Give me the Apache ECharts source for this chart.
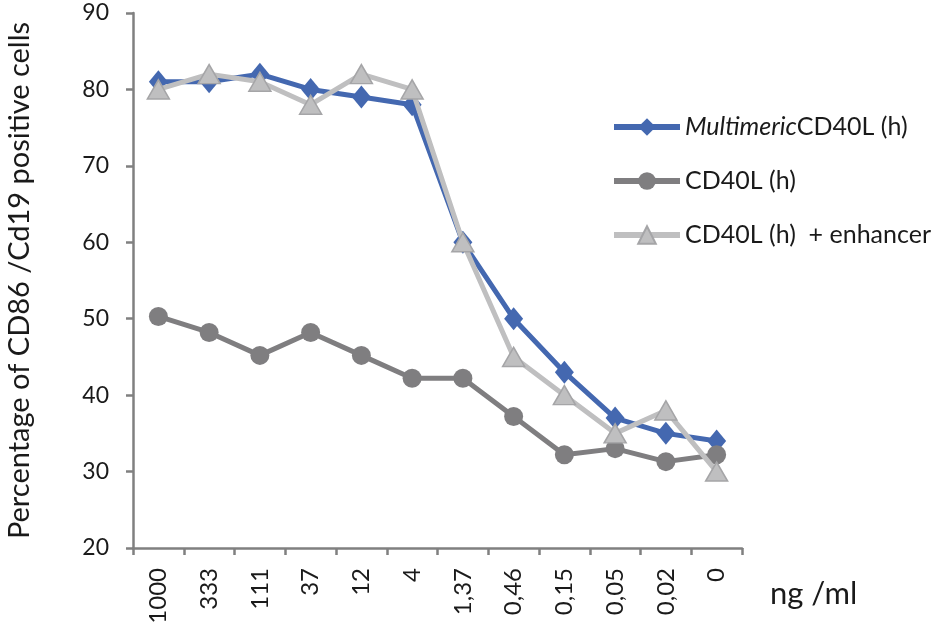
<!DOCTYPE html>
<html><head><meta charset="utf-8">
<script src="https://cdn.jsdelivr.net/npm/echarts@6/dist/echarts.min.js"></script>
<style>html,body{margin:0;padding:0;background:#fff}#c{width:951px;height:623px}</style>
</head><body><div id="c"></div>
<script>
const categories = ['1000','333','111','37','12','4','1,37','0,46','0,15','0,05','0,02','0'];
const multimeric = [81, 81, 82, 80, 79, 78, 60, 50, 43, 37, 35, 34];
const cd40l = [50.3, 48.2, 45.2, 48.2, 45.2, 42.2, 42.2, 37.2, 32.2, 33, 31.3, 32.2];
const enhancer = [80, 82, 81, 78, 82, 80, 60, 45, 40, 35, 38, 30];
const yTicks = {min: 20, max: 90, interval: 10};

const font = 'Lato, "Open Sans", sans-serif';
const txt = '#1a1a1a';
const chart = echarts.init(document.getElementById('c'), null, {renderer: 'canvas'});
chart.setOption({
  backgroundColor: '#fff',
  animation: false,
  grid: {left: 133, right: 209, top: 13, bottom: 75, containLabel: false, outerBoundsMode: 'none'},
  legend: {
    orient: 'vertical', left: 606, top: 109, itemWidth: 66, itemHeight: 22, itemGap: 28,
    lineStyle: {width: 6},
    textStyle: {fontFamily: font, fontSize: 25, color: txt, lineHeight: 26,
      rich: {it: {fontStyle: 'italic', fontFamily: font, fontSize: 25, color: txt},
             n: {fontFamily: font, fontSize: 25, color: txt}}},
    formatter: function(name){
      if (name.indexOf('Multimeric') === 0) return '{it|Multimeric}{n|CD40L (h)}';
      return '{n|' + name + '}';
    },
    data: ['Multimeric CD40L (h)', 'CD40L (h)', 'CD40L (h)  + enhancer']
  },
  xAxis: {
    type: 'category', data: categories, boundaryGap: true,
    name: 'ng /ml', nameLocation: 'end', nameGap: 28,
    nameTextStyle: {fontFamily: font, fontSize: 31, color: txt, verticalAlign: 'top', padding: [30, 0, 0, 0]},
    axisLine: {lineStyle: {color: '#808080', width: 2.5}},
    axisTick: {show: true, alignWithLabel: false, length: 7, lineStyle: {color: '#808080', width: 2.5}},
    axisLabel: {rotate: 90, fontFamily: font, fontSize: 24, color: txt, margin: 20, interval: 0}
  },
  yAxis: {
    type: 'value', min: yTicks.min, max: yTicks.max, interval: yTicks.interval,
    name: 'Percentage of CD86 /Cd19 positive cells', nameLocation: 'middle', nameGap: 99,
    nameTextStyle: {fontFamily: font, fontSize: 29, color: txt},
    axisLine: {show: true, lineStyle: {color: '#808080', width: 2.5}},
    axisTick: {show: true, length: 7, lineStyle: {color: '#808080', width: 2.5}},
    splitLine: {show: false},
    axisLabel: {fontFamily: font, fontSize: 23, color: txt, margin: 24}
  },
  series: [
    {name: 'Multimeric CD40L (h)', type: 'line', data: multimeric, symbol: 'diamond', symbolSize: [19, 23],
     lineStyle: {color: '#4468B0', width: 5}, itemStyle: {color: '#4468B0'}, z: 2},
    {name: 'CD40L (h)', type: 'line', data: cd40l, symbol: 'circle', symbolSize: 19,
     lineStyle: {color: '#7F7E80', width: 5}, itemStyle: {color: '#7F7E80'}, z: 3},
    {name: 'CD40L (h)  + enhancer', type: 'line', data: enhancer, symbol: 'triangle', symbolSize: [22, 19],
     lineStyle: {color: '#BFBFC0', width: 5}, itemStyle: {color: '#BFBFC0', borderColor: '#A5A5A7', borderWidth: 1.5}, z: 4}
  ]
});
</script></body></html>
